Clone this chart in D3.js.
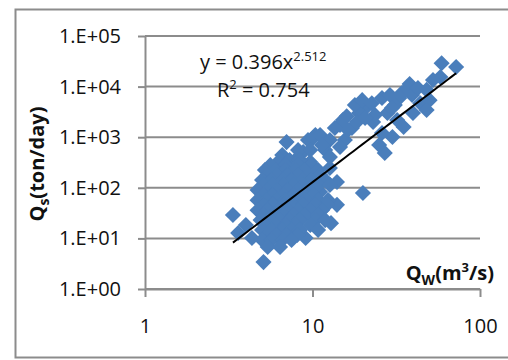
<!DOCTYPE html>
<html>
<head>
<meta charset="utf-8">
<script src="https://cdn.jsdelivr.net/npm/d3@7"></script>
<style>
  body { margin: 0; background: #fff; }
  svg { display: block; font-family: "Open Sans", sans-serif; }
</style>
</head>
<body>
<div id="chart"></div>
<script>
// discharge Qw (m3/s) and sediment load Qs (ton/day)
const qw = [59, 72, 58, 48, 38, 34, 26, 21, 19, 16, 14.6, 28, 32, 44, 50, 48, 35, 30, 26, 27, 25, 23, 18.4, 17.2,
    20, 14, 12.9, 9.1, 5.1, 7.0, 9.4, 10.4, 13.6, 3.35, 4.0, 3.6, 10.1, 8.8, 9.7, 12.7, 14, 11.1, 33, 37, 31, 23.6,
    15.6, 11.9, 7.9, 5.6, 6.6, 15.2, 11.1, 14.6, 12.7, 4.35,
    17.9, 19.8, 22.6, 29.0, 29.8, 39.3, 42.6, 52.4, 20.6, 16.3, 12.7, 11.4, 8.2, 9.7, 39.8,
    6.4, 7.3, 8.4,
    5.6, 6.9, 8.2, 9.9,
    5.2, 6.0, 6.9, 7.9, 9.0, 10.8,
    5.4, 6.2, 7.1, 8.2, 9.4, 11.1,
    5.0, 5.7, 6.6, 7.5, 8.7, 9.9, 11.9,
    5.1, 5.8, 6.7, 7.7, 8.8, 10.8, 12.7,
    4.7, 5.4, 6.2, 7.1, 8.2, 9.4,
    5.1, 5.8, 6.7, 7.7, 8.8, 10.1,
    4.7, 5.3, 6.1, 6.9, 8.0, 9.1, 10.8, 12.4,
    5.1, 5.8, 6.7, 7.7, 8.8, 10.4, 12.2,
    4.7, 5.4, 6.2, 7.1, 8.2, 9.7, 11.4,
    5.1, 5.8, 6.7, 7.7, 9.0, 10.8,
    4.9, 5.6, 6.4, 7.3, 8.4, 10.4, 11.9,
    5.2, 6.0, 6.9, 7.9, 9.7,
    5.0, 5.7, 6.6, 7.5, 8.4, 10.8,
    5.35, 6.1, 7.0, 8.1,
    5.0, 5.7, 6.6, 7.5,
    5.4, 6.4];
const qs = [29000, 24400, 15500, 8600, 11200, 7400, 5950, 3950, 3000, 2600, 1740, 3000, 2190, 4700, 5400, 3450, 1590, 1010, 1210, 490, 700, 2000, 2000, 1520,
    79, 46, 20, 10.2, 3.4, 800, 880, 1100, 1520, 29, 18.4, 12.8, 965, 510, 323, 246, 130, 83, 5950, 9400, 4330, 2750,
    880, 560, 355, 246, 445, 2190, 1100, 640, 405, 10.2,
    4330, 5400, 4700, 6820, 3780, 6820, 9400, 13500, 2400, 1390, 880, 700, 560, 560, 3000,
    355, 355, 355,
    282, 282, 282, 282,
    225, 225, 225, 225, 225, 225,
    179, 179, 179, 179, 179, 179,
    143, 143, 143, 143, 143, 143, 143,
    114, 114, 114, 114, 114, 114, 114,
    90, 90, 90, 90, 90, 90,
    72, 72, 72, 72, 72, 72,
    57, 57, 57, 57, 57, 57, 57, 57,
    46, 46, 46, 46, 46, 46, 46,
    36, 36, 36, 36, 36, 36, 36,
    29, 29, 29, 29, 29, 29,
    23, 23, 23, 23, 23, 23, 23,
    18.4, 18.4, 18.4, 18.4, 18.4,
    14.7, 14.7, 14.7, 14.7, 14.7, 14.7,
    11.7, 11.7, 11.7, 11.7,
    9.3, 9.3, 9.3, 9.3,
    6.8, 6.8];

// power trend line y = a x^b
const trendA = 0.396;
const trendB = 2.512;
const trendR2 = 0.754;

const xTicks = [1, 10, 100];
const yTicks = [1, 10, 100, 1000, 10000, 100000];

const width = 508, height = 360;
const margin = {top: 36, right: 28, bottom: 71, left: 145};
const gridColor = "#8c8c8c";
const markColor = "#4a7ebb";

const svg = d3.select("#chart").append("svg")
    .attr("width", width)
    .attr("height", height);

// outer frame of the chart area
svg.append("rect")
    .attr("x", 15.5).attr("y", 9.5)
    .attr("width", width + 10).attr("height", 348)
    .attr("fill", "none")
    .attr("stroke", gridColor)
    .attr("stroke-width", 2);

const x = d3.scaleLog()
    .domain([1, 100])
    .range([margin.left, width - margin.right]);

const y = d3.scaleLog()
    .domain([1, 100000])
    .range([height - margin.bottom, margin.top]);

// horizontal gridlines
svg.append("g")
    .selectAll("line")
    .data(yTicks)
    .join("line")
    .attr("x1", x(1)).attr("x2", x(100))
    .attr("y1", d => y(d)).attr("y2", d => y(d))
    .attr("stroke", gridColor)
    .attr("stroke-width", 2);

const yFormat = d => "1.E+" + String(Math.round(Math.log10(d))).padStart(2, "0");

const yAxis = svg.append("g")
    .attr("transform", `translate(${x(1)},0)`)
    .call(d3.axisLeft(y).tickValues(yTicks).tickFormat(yFormat).tickSize(7).tickSizeOuter(0).tickPadding(17));

const xAxis = svg.append("g")
    .attr("transform", `translate(0,${y(1)})`)
    .call(d3.axisBottom(x).tickValues(xTicks).tickFormat(d3.format("d")).tickSize(8).tickSizeOuter(0).tickPadding(22));

[yAxis, xAxis].forEach(g => {
    g.selectAll("path, line").attr("stroke", gridColor).attr("stroke-width", 2);
    g.selectAll("text")
        .attr("fill", "#111")
        .style("font-size", "20px")
        .style("font-family", "'Open Sans', sans-serif");
});

// scatter of diamonds
const points = qw.map((d, i) => [d, qs[i]]);
const diamond = d3.symbol(d3.symbolSquare, 130);

svg.append("g")
    .selectAll("path")
    .data(points)
    .join("path")
    .attr("d", diamond)
    .attr("transform", d => `translate(${x(d[0])},${y(d[1])}) rotate(45)`)
    .attr("fill", markColor);

// trend line across the data range
const [xMin, xMax] = d3.extent(qw);
const trend = d3.range(0, 51).map(i => {
    const xv = xMin * Math.pow(xMax / xMin, i / 50);
    return [xv, trendA * Math.pow(xv, trendB)];
});

svg.append("path")
    .datum(trend)
    .attr("fill", "none")
    .attr("stroke", "#000")
    .attr("stroke-width", 2)
    .attr("d", d3.line().x(d => x(d[0])).y(d => y(d[1])));

// equation and R squared
const eq = svg.append("text")
    .attr("x", 200).attr("y", 69)
    .attr("fill", "#111")
    .style("font-size", "20px");
eq.append("tspan").text("y = " + trendA + "x");
eq.append("tspan").attr("dy", -8).style("font-size", "13px").text(trendB);

const r2 = svg.append("text")
    .attr("x", 217).attr("y", 97)
    .attr("fill", "#111")
    .style("font-size", "20px");
r2.append("tspan").text("R");
r2.append("tspan").attr("dy", -8).style("font-size", "13px").text("2");
r2.append("tspan").attr("dy", 8).text(" = " + trendR2);

// axis titles
const xTitle = svg.append("text")
    .attr("x", 494).attr("y", 280)
    .attr("text-anchor", "end")
    .attr("fill", "#111")
    .style("font-size", "20px")
    .style("font-weight", "bold");
xTitle.append("tspan").text("Q");
xTitle.append("tspan").attr("dy", 5).style("font-size", "14px").text("W");
xTitle.append("tspan").attr("dy", -5).text("(m");
xTitle.append("tspan").attr("dy", -8).style("font-size", "13px").text("3");
xTitle.append("tspan").attr("dy", 8).text("/s)");

const yTitle = svg.append("text")
    .attr("transform", "translate(44,164) rotate(-90)")
    .attr("text-anchor", "middle")
    .attr("fill", "#111")
    .style("font-size", "20px")
    .style("font-weight", "bold");
yTitle.append("tspan").text("Q");
yTitle.append("tspan").attr("dy", 5).style("font-size", "14px").text("s");
yTitle.append("tspan").attr("dy", -5).text("(ton/day)");
</script>
</body>
</html>
